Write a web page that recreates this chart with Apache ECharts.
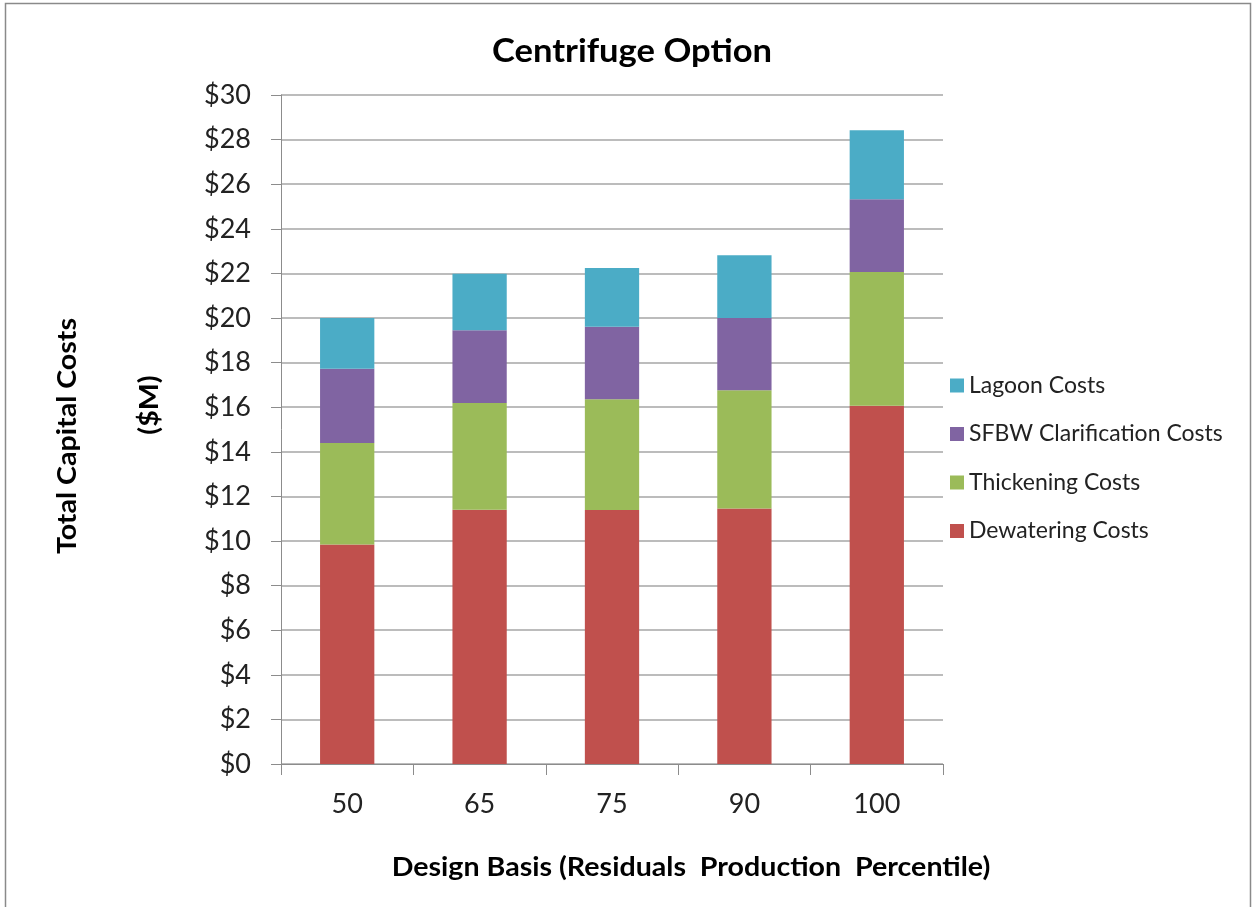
<!DOCTYPE html>
<html>
<head>
<meta charset="utf-8">
<title>Centrifuge Option</title>
<script src="https://cdn.jsdelivr.net/npm/echarts@6/dist/echarts.min.js"></script>
<style>
  html, body { margin: 0; padding: 0; background: #fff; }
  #chart { width: 1257px; height: 907px; }
</style>
</head>
<body>
<div id="chart"></div>
<script>
// Design basis percentiles (x categories)
var categories = ['50', '65', '75', '90', '100'];

// Capital cost components, $M (stacked bottom to top)
var dewatering    = [9.84, 11.40, 11.39, 11.46, 16.07];
var thickening    = [4.56, 4.79, 4.97, 5.30, 5.99];
var clarification = [3.32, 3.26, 3.25, 3.24, 3.27];
var lagoon        = [2.28, 2.53, 2.63, 2.81, 3.09];

var seriesNames = ['Dewatering Costs', 'Thickening Costs', 'SFBW Clarification Costs', 'Lagoon Costs'];
var seriesColors = ['#C0504D', '#9BBB59', '#8064A2', '#4BACC6'];
var seriesData = [dewatering, thickening, clarification, lagoon];

var FONT = 'Lato, "Open Sans", sans-serif';

var chart = echarts.init(document.getElementById('chart'));

var series = seriesNames.map(function (name, i) {
  return {
    name: name,
    type: 'bar',
    stack: 'total',
    barCategoryGap: '59%',
    itemStyle: { color: seriesColors[i] },
    emphasis: { disabled: true },
    data: seriesData[i]
  };
});

chart.setOption({
  animation: false,
  backgroundColor: '#ffffff',
  textStyle: { fontFamily: FONT },
  grid: { left: 281, top: 95, right: 314, bottom: 143 },
  legend: {
    orient: 'vertical',
    left: 945,
    top: 369,
    itemWidth: 14,
    itemHeight: 14,
    itemGap: 25.5,
    icon: 'rect',
    data: ['Lagoon Costs', 'SFBW Clarification Costs', 'Thickening Costs', 'Dewatering Costs'],
    textStyle: { fontFamily: FONT, fontSize: 23, color: '#222' }
  },
  xAxis: {
    type: 'category',
    data: categories,
    axisLine: { lineStyle: { color: '#8c8c8c', width: 1 } },
    axisTick: { show: true, length: 11, interval: 0, lineStyle: { color: '#8c8c8c' } },
    axisLabel: { margin: 27, fontSize: 27, color: '#222', fontFamily: FONT }
  },
  yAxis: {
    type: 'value',
    min: 0,
    max: 30,
    interval: 2,
    axisLine: { show: true, lineStyle: { color: '#8c8c8c', width: 1 } },
    axisTick: { show: true, length: 10, lineStyle: { color: '#8c8c8c' } },
    splitLine: { lineStyle: { color: '#a6a6a6', width: 1.5 } },
    axisLabel: {
      margin: 30,
      fontSize: 27,
      color: '#222',
      fontFamily: FONT,
      formatter: function (v) { return '$' + v; }
    }
  },
  graphic: [
    {
      type: 'rect',
      silent: true,
      shape: { x: 5.5, y: 3.5, width: 1245, height: 920 },
      style: { fill: 'none', stroke: '#8a8a8a', lineWidth: 1.5 }
    },
    {
      type: 'text',
      x: 632, y: 52,
      scaleX: 1.08,
      style: {
        text: 'Centrifuge Option',
        font: 'bold 32px ' + FONT,
        fill: '#000',
        textAlign: 'center',
        textVerticalAlign: 'middle'
      }
    },
    {
      type: 'text',
      x: 68, y: 436,
      rotation: Math.PI / 2,
      scaleX: 1.1,
      style: {
        text: 'Total Capital Costs',
        font: 'bold 26px ' + FONT,
        fill: '#000',
        textAlign: 'center',
        textVerticalAlign: 'middle'
      }
    },
    {
      type: 'text',
      x: 150, y: 405,
      rotation: Math.PI / 2,
      scaleX: 1.1,
      style: {
        text: '($M)',
        font: 'bold 26px ' + FONT,
        fill: '#000',
        textAlign: 'center',
        textVerticalAlign: 'middle'
      }
    },
    {
      type: 'text',
      x: 691, y: 868,
      scaleX: 1.1,
      style: {
        text: 'Design Basis (Residuals  Production  Percentile)',
        font: 'bold 26px ' + FONT,
        fill: '#000',
        textAlign: 'center',
        textVerticalAlign: 'middle'
      }
    }
  ],
  series: series
});
</script>
</body>
</html>
